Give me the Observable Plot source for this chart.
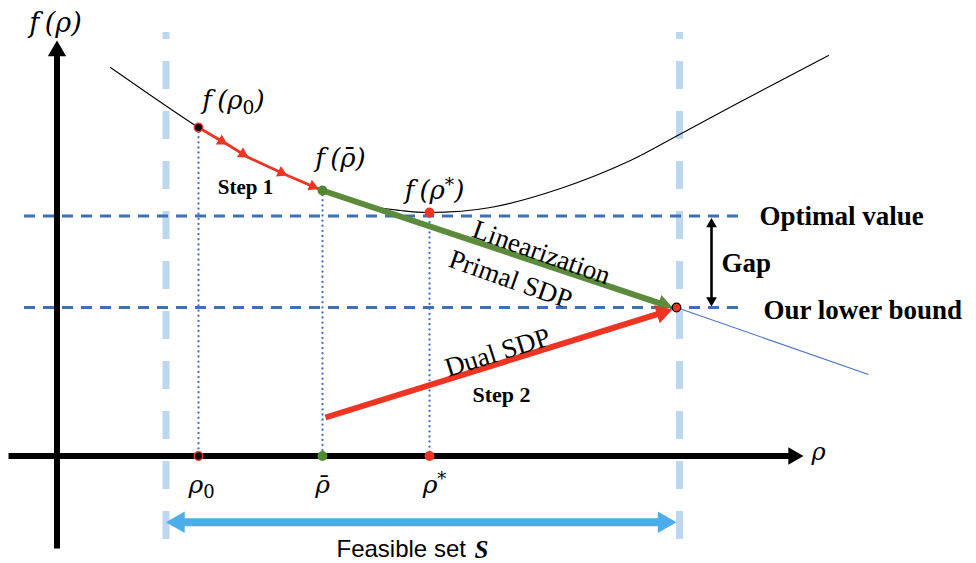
<!DOCTYPE html>
<html><head><meta charset="utf-8">
<script src="https://cdn.jsdelivr.net/npm/d3@7"></script>
<script src="https://cdn.jsdelivr.net/npm/@observablehq/plot@0.6"></script>
<style>html,body{margin:0;padding:0;background:#fff;} #chart svg{display:block;}</style>
</head><body><div id="chart"></div>
<script>
// ---- Diagram data (in the diagram's own ρ / f coordinate space) ----
const curveRho = [110, 198, 227, 248, 287, 322, 367, 400, 428, 490, 560, 630, 679, 750, 828];
const curveF   = [67,  127, 144, 157, 175, 190, 205, 210, 212, 207, 188, 160, 134, 96,  55];
const step1Rho = [198, 227, 248, 287, 322];
const step1F   = [127, 144, 157, 175, 190];
const keyRho   = [198, 322, 429];          // ρ0, ρ̄, ρ*
const keyF     = [127, 190, 212];          // f(ρ0), f(ρ̄), f(ρ*)
const keyFill  = ["black", "#4f8a2f", "#ee3524"];
const keyStroke= ["#ee3524", "#4f8a2f", "#ee3524"];
const tickLabels = ["ρ₀", "ρ̄", "ρ*"];
const fLabels    = ["f(ρ₀)", "f(ρ̄)", "f(ρ*)"];
const optimalValue = 215.5, lowerBound = 307;
const lowerRho = 676;
const dualStart = [325, 417];
const tangentEnd = [868, 374];
const originRho = 56.5, originF = 455.5;
const feasibleMin = 165.5, feasibleMax = 679;

const W = 976, H = 563;
const red = "#ee3524", green = "#5b8b3b", dashBlue = "#3d70b5", thinBlue = "#4472c4",
      paleBlue = "#bdd7ee", skyBlue = "#4badea";

function arrow(x1, y1, x2, y2, r, both) {
  const L = Math.hypot(x2 - x1, y2 - y1), ux = (x2 - x1) / L, uy = (y2 - y1) / L;
  const ang = Math.atan2(ux, -uy) * 180 / Math.PI;
  const heads = [{x: x2 - 1.555 * r * ux, y: y2 - 1.555 * r * uy, rot: ang}];
  let sx = x1, sy = y1;
  if (both) { heads.push({x: x1 + 1.555 * r * ux, y: y1 + 1.555 * r * uy, rot: ang + 180}); sx = x1 + 2 * r * ux; sy = y1 + 2 * r * uy; }
  return {shaft: [{x1: sx, y1: sy, x2: x2 - 2 * r * ux, y2: y2 - 2 * r * uy}], heads};
}
function arrowMarks(a, color, width, r) {
  return [
    Plot.link(a.shaft, {x1: "x1", y1: "y1", x2: "x2", y2: "y2", stroke: color, strokeWidth: width, strokeLinecap: "butt"}),
    Plot.dot(a.heads, {x: "x", y: "y", rotate: "rot", symbol: "triangle", r, fill: color, stroke: "none"})
  ];
}

const curve = curveRho.map((x, i) => ({x, y: curveF[i]}));
const step1 = step1Rho.map((x, i) => ({x, y: step1F[i]}));
const sr = 4.3;
const step1Heads = step1.slice(1).map((p, i) => {
  const q = step1[i], L = Math.hypot(p.x - q.x, p.y - q.y), ux = (p.x - q.x) / L, uy = (p.y - q.y) / L;
  const off = i === step1.length - 2 ? 4 : 0;
  return {x: p.x - (1.555 * sr + off) * ux, y: p.y - (1.555 * sr + off) * uy, rot: Math.atan2(ux, -uy) * 180 / Math.PI};
});
const keys = keyRho.map((x, i) => ({x, y: keyF[i], fill: keyFill[i], stroke: keyStroke[i], tick: tickLabels[i], lab: fLabels[i]}));

const yAxisA = arrow(originRho, 548, originRho, 40, 6.8, false);
const xAxisA = arrow(8, originF, 803, originF, 6.5, false);
const feasA  = arrow(feasibleMin, 521.7, 676, 521.7, 8, true);
const greenA = arrow(keyRho[1], keyF[1], 672, lowerBound, 6.2, false);
const redA   = arrow(dualStart[0], dualStart[1], 672, lowerBound + 2, 7, false);
const gapA   = arrow(711, optimalValue + 2, 711, lowerBound - 1, 4, true);

const serif = "Liberation Serif, Times New Roman, serif";
const math = "DejaVu Serif, serif";
const sans = "Liberation Sans, Arial, sans-serif";

const chart = Plot.plot({
  width: W, height: H, margin: 0,
  x: {domain: [0, W], range: [0, W], axis: null},
  y: {domain: [0, H], range: [0, H], axis: null},
  style: {background: "white", overflow: "visible"},
  marks: [
    Plot.ruleX([feasibleMin, feasibleMax], {y1: 32, y2: 545, stroke: paleBlue, strokeWidth: 7, strokeDasharray: "28,22", strokeDashoffset: 21}),
    Plot.ruleY([optimalValue, lowerBound], {x1: 24, x2: 745, stroke: dashBlue, strokeWidth: 2.8, strokeDasharray: "11,8"}),
    Plot.ruleX(keys, {x: "x", y1: "y", y2: originF, stroke: thinBlue, strokeWidth: 2.3, strokeDasharray: "0.1,5", strokeLinecap: "round"}),
    ...arrowMarks(yAxisA, "black", 6, 6.8),
    ...arrowMarks(xAxisA, "black", 6, 6.5),
    Plot.line(curve, {x: "x", y: "y", curve: "catmull-rom", stroke: "black", strokeWidth: 1.1}),
    Plot.link([{x1: lowerRho, y1: lowerBound, x2: tangentEnd[0], y2: tangentEnd[1]}], {x1: "x1", y1: "y1", x2: "x2", y2: "y2", stroke: thinBlue, strokeWidth: 1.1}),
    Plot.line(step1, {x: "x", y: "y", stroke: red, strokeWidth: 2.8}),
    Plot.dot(step1Heads, {x: "x", y: "y", rotate: "rot", symbol: "triangle", r: sr, fill: red, stroke: "none"}),
    ...arrowMarks(greenA, green, 6, 6.2),
    ...arrowMarks(redA, red, 6, 7),
    ...arrowMarks(gapA, "black", 2.6, 4),
    ...arrowMarks(feasA, skyBlue, 8, 8),
    Plot.dot(keys, {x: "x", y: "y", r: 4.2, fill: "fill", stroke: "stroke", strokeWidth: 1.5}),
    Plot.dot(keys, {x: "x", y: originF, r: 4.2, fill: "fill", stroke: "stroke", strokeWidth: 1.5}),
    Plot.dot([{x: lowerRho, y: lowerBound}], {x: "x", y: "y", r: 4.3, fill: red, stroke: "black", strokeWidth: 1.3}),
    Plot.text(["f(ρ)"], {x: 55, y: 23, text: d => d, fontFamily: math, fontStyle: "italic", fontSize: 27, fill: "black"}),
    Plot.text(["ρ"], {x: 811, y: 452, text: d => d, textAnchor: "start", fontFamily: math, fontStyle: "italic", fontSize: 24, fill: "black"}),
    Plot.text(keys, {x: d => d.x + [3, 0, 5][keys.indexOf(d)], y: 484, text: "tick", fontFamily: math, fontStyle: "italic", fontSize: 25, fill: "black"}),
    Plot.text(keys, {x: d => d.x + [35, 18, 5][keys.indexOf(d)], y: d => d.y + [-27, -32, -22][keys.indexOf(d)], text: "lab", fontFamily: math, fontStyle: "italic", fontSize: 26, fill: "black"}),
    Plot.text(["Step 1"], {x: 245, y: 187, text: d => d, fontFamily: serif, fontWeight: "bold", fontSize: 21, fill: "black"}),
    Plot.text(["Step 2"], {x: 501, y: 394, text: d => d, fontFamily: serif, fontWeight: "bold", fontSize: 22, fill: "black"}),
    Plot.text(["Linearization"], {x: 541, y: 252, text: d => d, rotate: 19.5, fontFamily: serif, fontSize: 27, fill: "black"}),
    Plot.text(["Primal SDP"], {x: 510, y: 279, text: d => d, rotate: 19.5, fontFamily: serif, fontSize: 27, fill: "black"}),
    Plot.text(["Dual SDP"], {x: 497, y: 352, text: d => d, rotate: -17.5, fontFamily: serif, fontSize: 27, fill: "black"}),
    Plot.text(["Optimal value"], {x: 759, y: 216, text: d => d, textAnchor: "start", fontFamily: serif, fontWeight: "bold", fontSize: 27, fill: "black"}),
    Plot.text(["Gap"], {x: 721, y: 263, text: d => d, textAnchor: "start", fontFamily: serif, fontWeight: "bold", fontSize: 27, fill: "black"}),
    Plot.text(["Our lower bound"], {x: 763, y: 310, text: d => d, textAnchor: "start", fontFamily: serif, fontWeight: "bold", fontSize: 27, fill: "black"}),
    Plot.text(["Feasible set"], {x: 336, y: 549, text: d => d, textAnchor: "start", fontFamily: sans, fontSize: 24, fill: "black"}),
    Plot.text(["S"], {x: 474, y: 549, text: d => d, textAnchor: "start", fontFamily: serif, fontWeight: "bold", fontStyle: "italic", fontSize: 25, fill: "black"})
  ]
});

// rich math text: spacing, upright subscript 0, superscript *
const rich = {
  "f(ρ)":  [["f\u2009(ρ)"]],
  "f(ρ₀)": [["f\u2009(ρ"], ["0", "sub"], [")"]],
  "f(ρ̄)":  [["f\u2009(ρ̄)"]],
  "f(ρ*)": [["f\u2009(ρ"], ["*", "sup"], [")"]],
  "ρ₀":    [["ρ"], ["0", "sub"]],
  "ρ*":    [["ρ"], ["*", "sup"]]
};
d3.select(chart).selectAll("text").each(function () {
  const t = this.textContent, parts = rich[t];
  if (!parts) return;
  const el = d3.select(this); el.text(null);
  let shift = 0;
  for (const [s, kind] of parts) {
    const ts = el.append("tspan").text(s);
    const target = kind === "sub" ? 5 : kind === "sup" ? -8 : 0;
    if (target !== shift) { ts.attr("dy", target - shift); shift = target; }
    if (kind) ts.attr("font-size", "0.72em").attr("font-style", kind === "sub" ? "normal" : null);
  }
});
document.getElementById("chart").appendChild(chart);
</script>
</body></html>
